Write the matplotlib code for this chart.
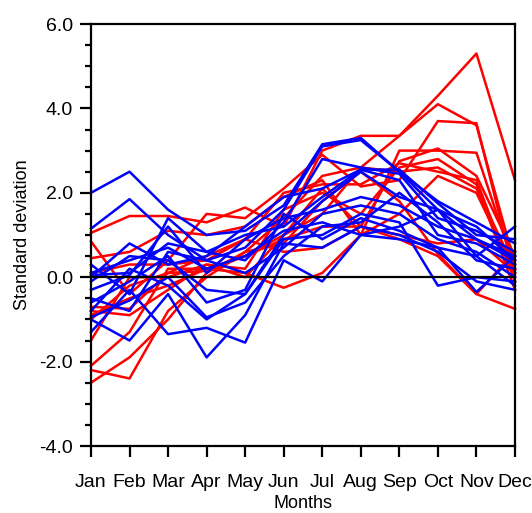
import numpy as np
import matplotlib.pyplot as plt
from matplotlib.ticker import MultipleLocator, FormatStrFormatter

months = ["Jan", "Feb", "Mar", "Apr", "May", "Jun",
          "Jul", "Aug", "Sep", "Oct", "Nov", "Dec"]

# red group of series (standard deviation per month)
red_series = [
    [-2.5, -1.9, -1.0, 0.1, 0.6, 1.4, 2.4, 2.6, 3.35, 4.3, 5.3, 2.3],
    [1.05, 1.45, 1.45, 1.3, 1.65, 1.2, 3.0, 3.35, 3.35, 4.1, 3.6, 0.3],
    [0.85, -0.4, 0.4, 1.5, 1.4, 2.1, 2.9, 2.15, 2.3, 3.7, 3.65, 0.0],
    [0.45, 0.6, 1.1, 1.0, 1.2, 1.9, 2.3, 1.0, 3.0, 3.0, 2.95, 0.2],
    [-0.7, -0.75, 0.1, 0.15, 0.5, 1.0, 2.1, 1.2, 2.75, 3.05, 2.4, 0.5],
    [-0.8, -0.9, -0.3, 0.3, 0.2, 1.6, 2.0, 1.5, 2.6, 2.8, 2.2, -0.3],
    [-1.5, 0.0, 0.0, 0.3, 0.0, 1.0, 1.5, 2.6, 2.5, 2.6, 2.1, 0.2],
    [-2.1, -1.3, 0.2, 0.2, 0.1, -0.25, 0.1, 1.0, 1.5, 2.4, 2.0, 0.1],
    [-2.2, -2.4, -0.8, 0.0, 0.6, 0.8, 1.8, 2.5, 1.8, 0.55, -0.4, -0.75],
    [-0.9, -0.5, -0.2, 0.2, 0.5, 0.9, 1.2, 1.2, 1.0, 0.8, 0.9, 0.1],
    [0.1, 0.3, 0.3, 0.4, 0.9, 0.6, 0.7, 1.2, 0.9, 0.5, -0.4, 0.6],
    [-1.0, -0.2, 0.1, 0.5, 0.9, 2.0, 2.2, 2.2, 2.7, 2.5, 2.3, -0.1],
]

# blue group of series
blue_series = [
    [2.0, 2.5, 1.6, 1.0, 1.1, 1.7, 3.15, 3.3, 2.5, 1.6, 0.9, 0.5],
    [1.15, 1.85, 1.0, 0.4, 0.7, 1.6, 3.1, 3.25, 2.5, 1.8, 1.3, 0.8],
    [0.3, -0.4, 1.4, 0.6, 0.4, 1.3, 2.8, 2.6, 2.45, 1.4, 1.1, 0.6],
    [0.0, 0.8, 0.3, 0.5, 1.2, 1.9, 2.1, 2.55, 2.3, 1.0, 0.8, 0.3],
    [-0.1, 0.5, 0.4, -0.3, -0.4, 1.0, 1.8, 2.5, 1.9, 1.6, 0.5, 1.2],
    [-0.3, 0.05, 1.2, 0.1, 0.9, 1.4, 1.6, 1.9, 1.7, 1.2, 0.9, 0.4],
    [-0.8, 0.2, -0.2, -1.0, -0.4, 0.9, 1.0, 1.5, 1.3, -0.2, 0.0, -0.1],
    [-0.95, -0.55, 0.0, -0.95, -0.6, 0.5, 1.2, 1.3, 2.0, 1.3, 0.4, 0.2],
    [-1.0, -1.5, -0.4, -1.9, -0.9, 0.8, 0.7, 1.2, 1.0, 0.6, -0.1, -0.3],
    [-1.3, -0.3, -1.35, -1.2, -1.55, 0.4, -0.1, 1.0, 0.9, 0.7, -0.35, 0.5],
    [-0.5, -0.8, 0.6, 0.4, 0.1, 0.7, 1.5, 1.7, 1.5, 0.9, 0.6, 0.0],
    [0.1, 0.4, 0.7, 0.2, 0.5, 1.1, 1.3, 1.0, 1.2, 1.6, 1.2, 0.4],
    [-0.6, -0.1, 0.5, -0.6, -0.3, 1.5, 0.9, 1.4, 1.1, 0.7, 0.5, -0.2],
    [0.05, 0.1, 0.8, 0.6, 1.0, 1.2, 1.9, 2.55, 2.55, 1.75, 1.0, 0.9],
]

plt.rcParams['font.family'] = ['Liberation Sans', 'DejaVu Sans']

fig = plt.figure(figsize=(5.32, 5.13), dpi=100)
ax = fig.add_axes([0.171, 0.1306, 0.797, 0.8226])

x = np.arange(len(months))
for s in red_series:
    ax.plot(x, s, color="#ff0000", lw=1.8, clip_on=False)
for s in blue_series:
    ax.plot(x, s, color="#0000ff", lw=1.8, clip_on=False)

ax.axhline(0, color="black", lw=1.6)

ax.set_xlim(0, 11)
ax.set_ylim(-4, 6)
ax.set_xticks(x)
ax.set_xticklabels(months)
ax.yaxis.set_major_locator(MultipleLocator(2))
ax.yaxis.set_minor_locator(MultipleLocator(0.5))
ax.yaxis.set_major_formatter(FormatStrFormatter("%.1f"))

for sp in ax.spines.values():
    sp.set_linewidth(1.6)
ax.tick_params(axis="both", which="major", direction="out", length=8, width=1.6,
               labelsize=14)
ax.tick_params(axis="x", pad=12)
ax.tick_params(axis="y", pad=5)
ax.tick_params(axis="y", which="minor", direction="out", length=4.5, width=1.6)

ax.set_xlabel("Months", fontsize=13, labelpad=3)
ax.set_ylabel("Standard deviation", fontsize=13, labelpad=6)

fig.savefig("out.png", dpi=100)
